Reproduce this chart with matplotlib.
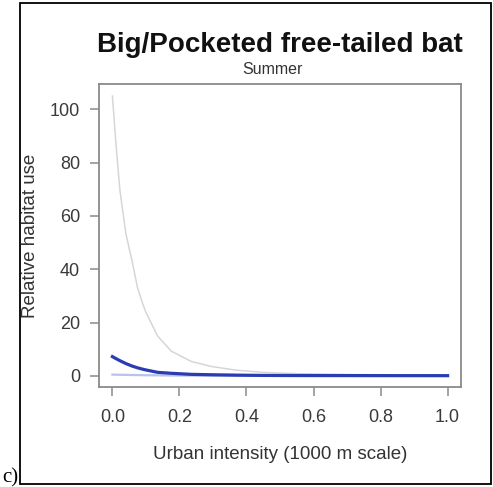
import numpy as np
import matplotlib
matplotlib.use("Agg")
import matplotlib.pyplot as plt
from matplotlib.patches import Rectangle

# urban intensity values along the fitted curves
urban = [0.0, 0.01, 0.022, 0.04, 0.06, 0.075, 0.09, 0.1, 0.135, 0.175,
         0.235, 0.295, 0.37, 0.45, 0.55, 0.70, 0.85, 1.0]
# upper confidence limit (grey)
upper = [105.0, 88.0, 70.0, 53.5, 42.3, 33.0, 27.2, 23.8, 14.9, 9.3,
         5.4, 3.5, 2.1, 1.3, 0.8, 0.5, 0.35, 0.3]
# fitted relative habitat use (blue)
fit = [7.2, 6.5, 5.7, 4.6, 3.6, 3.0, 2.5, 2.2, 1.3, 0.95,
       0.55, 0.4, 0.25, 0.15, 0.1, 0.08, 0.06, 0.05]
# lower confidence limit (light blue)
lower = [0.45, 0.42, 0.39, 0.35, 0.3, 0.27, 0.24, 0.22, 0.17, 0.12,
         0.08, 0.05, 0.03, 0.02, 0.02, 0.01, 0.01, 0.01]

xticks = [0.0, 0.2, 0.4, 0.6, 0.8, 1.0]
yticks = [0, 20, 40, 60, 80, 100]

W, H = 493, 487
plt.rcParams['font.family'] = ['Liberation Sans', 'DejaVu Sans']

fig = plt.figure(figsize=(W / 100, H / 100), dpi=100)
ax = fig.add_axes([99 / W, 1 - 387 / H, (461 - 99) / W, (387 - 84) / H])

ax.plot(urban, upper, color="#d6d6d6", lw=1.1)
ax.plot(urban, lower, color="#b8c2ec", lw=1.6)
ax.plot(urban, fit, color="#2b3cb2", lw=2.3)

ax.set_xlim(-0.04, 1.04)
ax.set_ylim(-4.2, 109.5)
ax.set_xticks(xticks)
ax.set_xticklabels(["%.1f" % v for v in xticks])
ax.set_yticks(yticks)
ax.set_yticklabels([str(v) for v in yticks])

for s in ax.spines.values():
    s.set_color("#8a8a8a")
    s.set_linewidth(1.3)
ax.tick_params(direction="out", length=6.5, width=1.1, color="#8a8a8a",
               labelsize=13, labelcolor="#3a3a3a", pad=7)
ax.tick_params(axis="x", pad=9)

ax.set_xlabel("Urban intensity (1000 m scale)", fontsize=13.5,
              color="#333333", labelpad=15)
ax.set_ylabel("Relative habitat use", fontsize=13.5, color="#333333",
              labelpad=8)

fig.text(280 / W, 1 - 45 / H, "Big/Pocketed free-tailed bat",
         ha="center", va="center", fontsize=20, fontweight="bold",
         color="#111111")
fig.text(272 / W, 1 - 69 / H, "Summer", ha="center", va="center",
         fontsize=11.5, color="#333333")

# panel frame and letter
fig.patches.append(Rectangle((20 / W, 3 / H), (491 - 20) / W, (484 - 3) / H,
                             transform=fig.transFigure, fill=False,
                             edgecolor="black", lw=1.3))
fig.text(18 / W, 1 - 478 / H, "c)", ha="right", va="center",
         fontsize=15, family="Liberation Serif", color="black")

fig.savefig("out.png", dpi=100)
